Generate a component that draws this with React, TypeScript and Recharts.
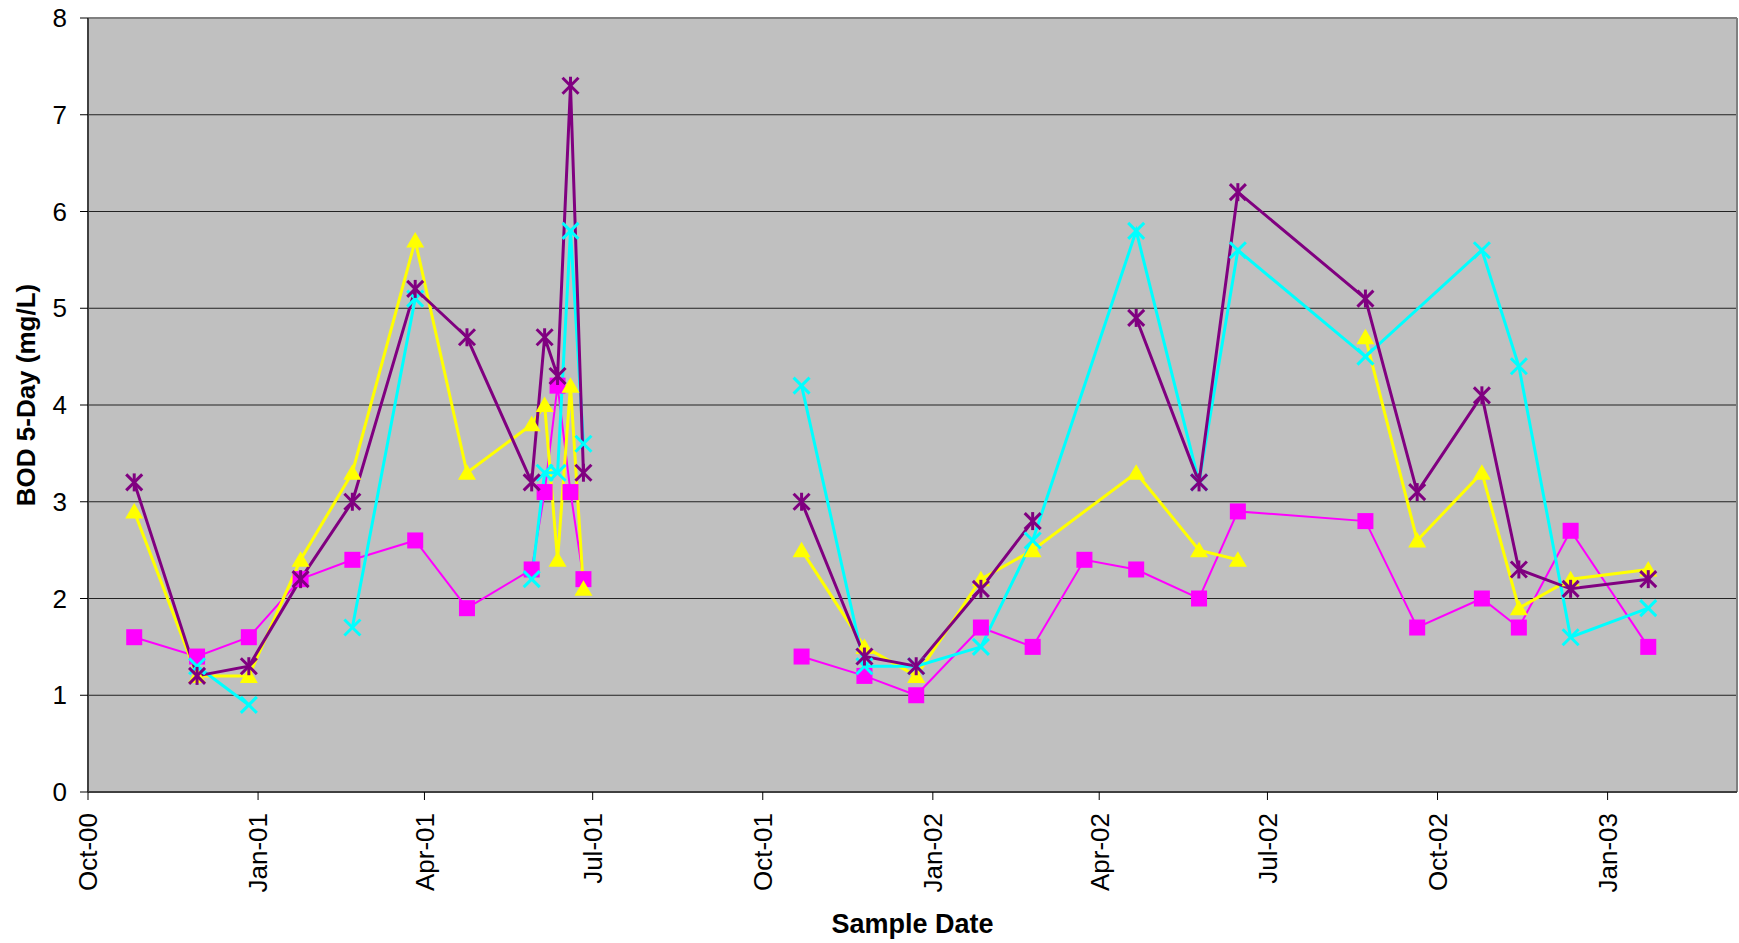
import {
  LineChart,
  Line,
  XAxis,
  YAxis,
  CartesianGrid,
  ReferenceLine,
  Label,
} from "recharts";

// blank cell in the sheet: the line breaks there
const GAP = null;
// #N/A in the sheet: the line runs straight past it
const NA = undefined;

const sampleDates = [
  "2000-10-26", "2000-11-29", "2000-12-27", "2001-01-24", "2001-02-21",
  "2001-03-27", "2001-04-24", "2001-05-29", "2001-06-05", "2001-06-12",
  "2001-06-19", "2001-06-26", "2001-08-15", "2001-10-22", "2001-11-25",
  "2001-12-23", "2002-01-27", "2002-02-24", "2002-03-24", "2002-04-21",
  "2002-05-25", "2002-06-15", "2002-07-19", "2002-08-23", "2002-09-20",
  "2002-10-25", "2002-11-14", "2002-12-12", "2003-01-23",
];

const magentaBod = [
  1.6, 1.4, 1.6, 2.2, 2.4, 2.6, 1.9, 2.3, 3.1, 4.2, 3.1, 2.2, GAP,
  1.4, 1.2, 1.0, 1.7, 1.5, 2.4, 2.3, 2.0, 2.9, NA, 2.8, 1.7, 2.0, 1.7, 2.7, 1.5,
];
const yellowBod = [
  2.9, 1.2, 1.2, 2.4, 3.3, 5.7, 3.3, 3.8, 4.0, 2.4, 4.2, 2.1, GAP,
  2.5, 1.5, 1.2, 2.2, 2.5, NA, 3.3, 2.5, 2.4, GAP, 4.7, 2.6, 3.3, 1.9, 2.2, 2.3,
];
const cyanBod = [
  GAP, 1.3, 0.9, GAP, 1.7, 5.1, GAP, 2.2, 3.3, 3.3, 5.8, 3.6, GAP,
  4.2, 1.3, 1.3, 1.5, 2.6, NA, 5.8, 3.2, 5.6, NA, 4.5, NA, 5.6, 4.4, 1.6, 1.9,
];
const purpleBod = [
  3.2, 1.2, 1.3, 2.2, 3.0, 5.2, 4.7, 3.2, 4.7, 4.3, 7.3, 3.3, GAP,
  3.0, 1.4, 1.3, 2.1, 2.8, GAP, 4.9, 3.2, 6.2, NA, 5.1, 3.1, 4.1, 2.3, 2.1, 2.2,
];

const tickDates = [
  "2000-10-01", "2001-01-01", "2001-04-01", "2001-07-01", "2001-10-01",
  "2002-01-01", "2002-04-01", "2002-07-01", "2002-10-01", "2003-01-01",
];
const tickLabels = [
  "Oct-00", "Jan-01", "Apr-01", "Jul-01", "Oct-01",
  "Jan-02", "Apr-02", "Jul-02", "Oct-02", "Jan-03",
];
const yTicks = [0, 1, 2, 3, 4, 5, 6, 7, 8];

const X_MIN = Date.parse("2000-10-01");
const X_MAX = Date.parse("2003-03-12");
const FONT = "'Liberation Sans', Arial, sans-serif";

const xTicks = tickDates.map((d) => Date.parse(d));

function seriesData(values: (number | null | undefined)[]) {
  return sampleDates
    .map((d, i) => ({ t: Date.parse(d), v: values[i] }))
    .filter((p) => p.v !== undefined);
}

function DateTick(props: any) {
  const { x, y, payload } = props;
  const label = tickLabels[xTicks.indexOf(payload.value)];
  return (
    <text
      x={x}
      y={y}
      dy="0.36em"
      textAnchor="end"
      transform={`rotate(-90 ${x} ${y})`}
      fontSize={26}
      fontFamily={FONT}
      fill="#000"
    >
      {label}
    </text>
  );
}

const empty = (p: any) => <g key={p.key} />;

function SquareDot(p: any) {
  if (p.cy == null || p.value == null) return empty(p);
  return (
    <rect key={p.key} x={p.cx - 8} y={p.cy - 8} width={16} height={16} fill="#FF00FF" />
  );
}

function TriangleDot(p: any) {
  if (p.cy == null || p.value == null) return empty(p);
  const { cx, cy } = p;
  return (
    <polygon
      key={p.key}
      points={`${cx},${cy - 8.5} ${cx + 9},${cy + 7} ${cx - 9},${cy + 7}`}
      fill="#FFFF00"
    />
  );
}

function CrossDot(p: any) {
  if (p.cy == null || p.value == null) return empty(p);
  const { cx, cy } = p;
  return (
    <g key={p.key} stroke="#00FFFF" strokeWidth={3}>
      <line x1={cx - 8} y1={cy - 8} x2={cx + 8} y2={cy + 8} />
      <line x1={cx - 8} y1={cy + 8} x2={cx + 8} y2={cy - 8} />
    </g>
  );
}

function StarDot(p: any) {
  if (p.cy == null || p.value == null) return empty(p);
  const { cx, cy } = p;
  return (
    <g key={p.key} stroke="#800080" strokeWidth={3}>
      <line x1={cx - 8} y1={cy - 8} x2={cx + 8} y2={cy + 8} />
      <line x1={cx - 8} y1={cy + 8} x2={cx + 8} y2={cy - 8} />
      <line x1={cx} y1={cy - 9} x2={cx} y2={cy + 9} />
    </g>
  );
}

export default function App() {
  return (
    <div
      style={{
        position: "absolute",
        left: 0,
        top: 0,
        width: 1739,
        height: 943,
        background: "#fff",
      }}
    >
      <LineChart width={1739} height={943} margin={{ top: 18, right: 2, bottom: 0, left: 0 }}>
        <CartesianGrid vertical={false} fill="#C0C0C0" stroke="#222" />
        <XAxis
          type="number"
          dataKey="t"
          domain={[X_MIN, X_MAX]}
          ticks={xTicks}
          allowDataOverflow
          height={151}
          tickSize={8}
          tickMargin={13}
          tick={<DateTick />}
          axisLine={{ stroke: "#404040", strokeWidth: 2 }}
          tickLine={{ stroke: "#000" }}
          interval={0}
        >
          <Label
            value="Sample Date"
            position="insideBottom"
            offset={10}
            fontSize={27}
            fontWeight={700}
            fontFamily={FONT}
            fill="#000"
          />
        </XAxis>
        <YAxis
          type="number"
          domain={[0, 8]}
          ticks={yTicks}
          width={88}
          tickSize={8}
          tickMargin={13}
          interval={0}
          tick={{ fontSize: 26, fill: "#000", fontFamily: FONT }}
          axisLine={{ stroke: "#404040", strokeWidth: 2 }}
          tickLine={{ stroke: "#000" }}
        >
          <Label
            content={() => (
              <text
                x={26}
                y={395}
                dy="0.36em"
                textAnchor="middle"
                transform="rotate(-90 26 395)"
                fontSize={26}
                fontWeight={700}
                fontFamily={FONT}
                fill="#000"
              >
                BOD 5-Day (mg/L)
              </text>
            )}
          />
        </YAxis>
        <ReferenceLine y={8} stroke="#808080" strokeWidth={2} />
        <ReferenceLine x={X_MAX} stroke="#808080" strokeWidth={2} />
        <Line
          data={seriesData(magentaBod)}
          dataKey="v"
          stroke="#FF00FF"
          strokeWidth={2}
          dot={SquareDot}
          activeDot={false}
          isAnimationActive={false}
        />
        <Line
          data={seriesData(yellowBod)}
          dataKey="v"
          stroke="#FFFF00"
          strokeWidth={3}
          dot={TriangleDot}
          activeDot={false}
          isAnimationActive={false}
        />
        <Line
          data={seriesData(cyanBod)}
          dataKey="v"
          stroke="#00FFFF"
          strokeWidth={3}
          dot={CrossDot}
          activeDot={false}
          isAnimationActive={false}
        />
        <Line
          data={seriesData(purpleBod)}
          dataKey="v"
          stroke="#800080"
          strokeWidth={3}
          dot={StarDot}
          activeDot={false}
          isAnimationActive={false}
        />
      </LineChart>
    </div>
  );
}
